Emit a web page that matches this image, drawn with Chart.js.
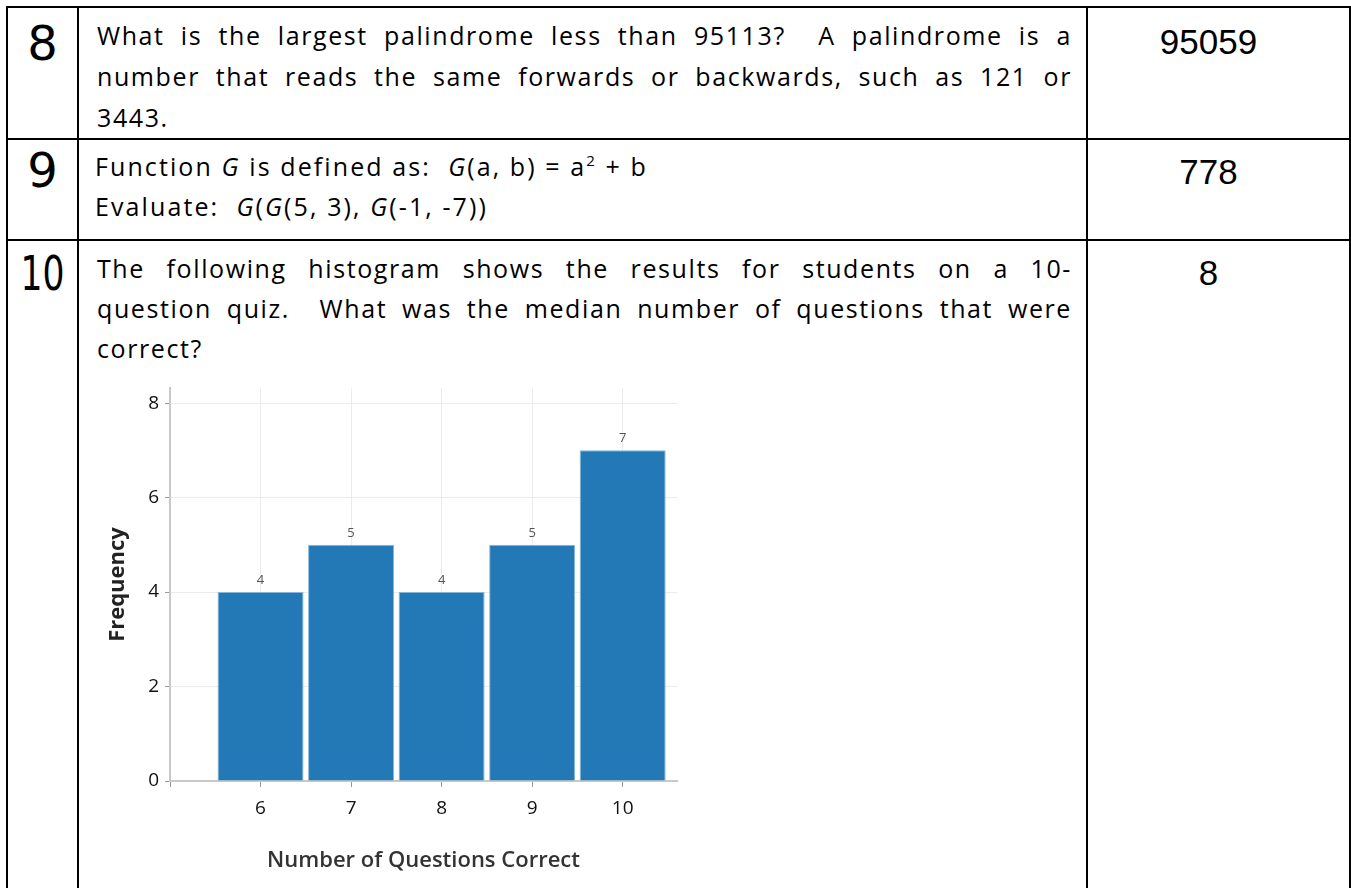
<!DOCTYPE html>
<html>
<head>
<meta charset="utf-8">
<script src="https://cdn.jsdelivr.net/npm/chart.js@4.4.1/dist/chart.umd.min.js"></script>
<style>
  body { margin: 0; background: #fff; width: 1351px; height: 888px; overflow: hidden; position: relative; }
  .ln { position: absolute; background: #000; }
  .num { position: absolute; left: 8px; width: 69px; text-align: center; font-family: "DejaVu Sans", sans-serif; font-size: 48px; line-height: 60px; color: #000; }
  .num span { display: inline-block; transform: scaleX(0.72); }
  .ans { position: absolute; left: 1078px; width: 261px; text-align: center; font-family: "Liberation Sans", Arial, sans-serif; font-size: 35px; line-height: 40px; color: #000; }
  .q { position: absolute; left: 97px; width: 975px; font-family: "Open Sans", sans-serif; font-size: 25px; letter-spacing: 1.6px; line-height: 40px; color: #000; white-space: nowrap; }
  .j { text-align: justify; text-align-last: justify; white-space: normal; }
  .q i { font-style: italic; }
  .q sup { font-size: 15px; line-height: 0; vertical-align: 10px; }
  .r9 { letter-spacing: 2.1px; }
  #chartBox { position: absolute; left: 95px; top: 370px; width: 595px; height: 515px; }
</style>
</head>
<body>
<!-- table rules -->
<div class="ln" style="left:6px;top:6px;width:1345px;height:2px"></div>
<div class="ln" style="left:6px;top:138px;width:1345px;height:2px"></div>
<div class="ln" style="left:6px;top:239px;width:1345px;height:2px"></div>
<div class="ln" style="left:6px;top:6px;width:2px;height:882px"></div>
<div class="ln" style="left:77px;top:6px;width:2px;height:882px"></div>
<div class="ln" style="left:1086px;top:6px;width:2px;height:882px"></div>
<div class="ln" style="left:1349px;top:6px;width:2px;height:882px"></div>

<div class="num" style="top:13px">8</div>
<div class="num" style="top:140px">9</div>
<div class="num" style="top:243px"><span>10</span></div>

<div class="q j" style="top:15px">What is the largest palindrome less than 95113?&nbsp; A palindrome is a</div>
<div class="q j" style="top:56px">number that reads the same forwards or backwards, such as 121 or</div>
<div class="q" style="top:97px">3443.</div>

<div class="q r9" style="left:95px;top:146px">Function <i>G</i> is defined as:&nbsp; <i>G</i>(a, b) = a<sup>2</sup> + b</div>
<div class="q r9" style="left:95px;top:186px">Evaluate:&nbsp; <i>G</i>(<i>G</i>(5, 3), <i>G</i>(-1, -7))</div>

<div class="q j" style="top:248px">The following histogram shows the results for students on a 10-</div>
<div class="q j" style="top:288px">question quiz.&nbsp; What was the median number of questions that were</div>
<div class="q" style="top:328px">correct?</div>

<div class="ans" style="top:22px">95059</div>
<div class="ans" style="top:152px">778</div>
<div class="ans" style="top:253px">8</div>

<div id="chartBox"><canvas id="hist"></canvas></div>

<script>
// quiz results
const scores = [6, 7, 8, 9, 10];
const frequency = [4, 5, 4, 5, 7];
const xTicks = [5, 6, 7, 8, 9, 10];
const yTicks = [0, 2, 4, 6, 8];

const barColor = '#2279b5';
const gridColor = '#ececec';
const axisColor = '#c9c9c9';
const font = '"Open Sans", sans-serif';

// count labels above each bar
const valueLabels = {
  id: 'valueLabels',
  afterDatasetsDraw(chart) {
    const ctx = chart.ctx;
    const meta = chart.getDatasetMeta(0);
    ctx.save();
    ctx.font = '13px ' + font;
    ctx.fillStyle = '#555';
    ctx.textAlign = 'center';
    ctx.textBaseline = 'alphabetic';
    meta.data.forEach((bar, i) => {
      ctx.fillText(String(frequency[i]), bar.x, bar.y - 8);
    });
    ctx.restore();
  }
};

new Chart(document.getElementById('hist'), {
  type: 'bar',
  data: {
    datasets: [{
      data: scores.map((s, i) => ({ x: s, y: frequency[i] })),
      backgroundColor: barColor,
      borderColor: '#86b6dc',
      borderWidth: 1,
      barPercentage: 0.95,
      categoryPercentage: 1
    }]
  },
  options: {
    responsive: true,
    maintainAspectRatio: false,
    animation: false,
    layout: { padding: { top: 18, right: 13, bottom: 0, left: 0 } },
    plugins: { legend: { display: false }, tooltip: { enabled: false } },
    scales: {
      x: {
        type: 'linear',
        offset: false,
        min: 5,
        max: 10.6,
        afterBuildTicks: s => { s.ticks = xTicks.map(v => ({ value: v })); },
        afterFit: s => { s.height = 104; },
        grid: { offset: false, color: gridColor, tickColor: '#999', tickLength: 6 },
        border: { color: axisColor, width: 2 },
        ticks: {
          padding: 10,
          color: '#111',
          font: { family: font, size: 19 },
          callback: v => (v === 5 ? '' : v)
        },
        title: {
          display: true,
          text: 'Number of Questions Correct',
          color: '#333',
          font: { family: font, size: 22, weight: '600' },
          padding: { top: 0, bottom: 11 }
        }
      },
      y: {
        min: 0,
        max: 8.32,
        afterBuildTicks: s => { s.ticks = yTicks.map(v => ({ value: v })); },
        afterFit: s => { s.width = 75; },
        grid: { color: gridColor, tickColor: '#999', tickLength: 5 },
        border: { color: axisColor, width: 2 },
        ticks: {
          padding: 6,
          color: '#111',
          font: { family: font, size: 19 }
        },
        title: {
          display: true,
          text: 'Frequency',
          color: '#222',
          font: { family: font, size: 22, weight: 'bold' },
          padding: { top: 10, bottom: 0 }
        }
      }
    }
  },
  plugins: [valueLabels]
});
</script>
</body>
</html>
